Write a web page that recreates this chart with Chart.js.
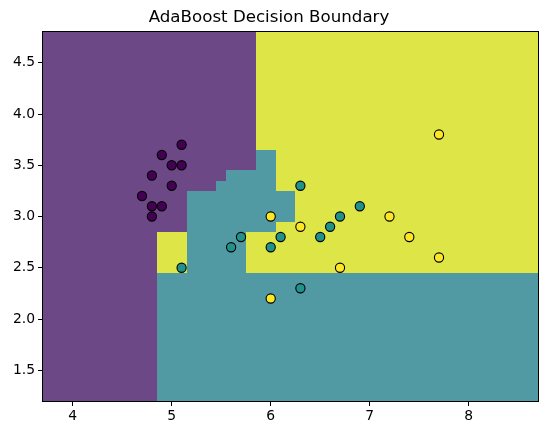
<!DOCTYPE html>
<html>
<head>
<meta charset="utf-8">
<script src="https://cdn.jsdelivr.net/npm/chart.js@4/dist/chart.umd.min.js"></script>
<style>
html,body{margin:0;padding:0;background:#fff;}
#wrap{width:547px;height:435px;position:relative;}
</style>
</head>
<body>
<div id="wrap"><canvas id="c" width="547" height="435"></canvas></div>
<script>
// ---- data ----
const titleText = "AdaBoost Decision Boundary";
const xRange = [3.7, 8.7];
const yRange = [1.2, 4.8];
const xTicks = [4, 5, 6, 7, 8];
const yTicks = [1.5, 2.0, 2.5, 3.0, 3.5, 4.0, 4.5];

// decision regions: horizontal bands (y edges), x break points and class per segment
const bandEdgesY = [1.2, 2.45, 2.85, 2.95, 3.25, 3.35, 3.45, 3.65, 4.8];
const bandBreaksX = [
  [4.85],
  [4.85, 5.15, 5.75],
  [5.15, 6.05],
  [5.15, 6.25],
  [5.45, 6.05],
  [5.55, 6.05],
  [5.85, 6.05],
  [5.85]
];
const bandClasses = [
  [0, 1],
  [0, 2, 1, 2],
  [0, 1, 2],
  [0, 1, 2],
  [0, 1, 2],
  [0, 1, 2],
  [0, 1, 2],
  [0, 2]
];

// samples
const class0X = [5.1, 4.9, 5.0, 5.1, 4.8, 5.0, 4.7, 4.8, 4.9, 4.8];
const class0Y = [3.7, 3.6, 3.5, 3.5, 3.4, 3.3, 3.2, 3.1, 3.1, 3.0];
const class1X = [6.3, 6.1, 6.0, 5.7, 5.6, 5.1, 6.3, 6.5, 6.6, 6.7, 6.9];
const class1Y = [3.3, 2.8, 2.7, 2.8, 2.7, 2.5, 2.3, 2.8, 2.9, 3.0, 3.1];
const class2X = [6.0, 6.3, 6.0, 6.7, 7.7, 7.2, 7.4, 7.7];
const class2Y = [3.0, 2.9, 2.2, 2.5, 3.8, 3.0, 2.8, 2.6];

// ---- styles ----
const regionColors = ['rgb(109,72,134)', 'rgb(81,154,164)', 'rgb(222,229,70)'];
const pointColors = ['#440154', '#21918c', '#fde725'];
const FONT = "'DejaVu Sans', sans-serif";

function pts(xs, ys) { return xs.map((x, i) => ({x: x, y: ys[i]})); }

const regionPlugin = {
  id: 'regions',
  beforeDatasetsDraw(chart) {
    const {ctx, chartArea, scales} = chart;
    const sx = scales.x, sy = scales.y;
    ctx.save();
    ctx.beginPath();
    ctx.rect(chartArea.left, chartArea.top, chartArea.right - chartArea.left, chartArea.bottom - chartArea.top);
    ctx.clip();
    for (let b = 0; b < bandClasses.length; b++) {
      const yA = Math.round(sy.getPixelForValue(bandEdgesY[b]));
      const yB = Math.round(sy.getPixelForValue(bandEdgesY[b + 1]));
      const xs = [xRange[0]].concat(bandBreaksX[b]).concat([xRange[1]]);
      for (let k = 0; k < bandClasses[b].length; k++) {
        const x0 = Math.round(sx.getPixelForValue(xs[k]));
        const x1 = Math.round(sx.getPixelForValue(xs[k + 1]));
        ctx.fillStyle = regionColors[bandClasses[b][k]];
        ctx.fillRect(x0, Math.min(yA, yB), x1 - x0, Math.abs(yB - yA));
      }
    }
    ctx.restore();
  },
  afterDraw(chart) {
    const {ctx, chartArea} = chart;
    ctx.save();
    ctx.strokeStyle = '#000';
    ctx.lineWidth = 1;
    ctx.strokeRect(Math.round(chartArea.left) - 0.5, Math.round(chartArea.top) - 0.5,
      Math.round(chartArea.right - chartArea.left) + 1, Math.round(chartArea.bottom - chartArea.top) + 1);
    ctx.restore();
  }
};

const ds = [[class0X, class0Y], [class1X, class1Y], [class2X, class2Y]].map((d, i) => ({
  label: 'class ' + i,
  data: pts(d[0], d[1]),
  backgroundColor: pointColors[i],
  borderColor: '#000',
  borderWidth: 1.1,
  pointRadius: 4.6,
  pointHoverRadius: 4.6
}));

new Chart(document.getElementById('c'), {
  type: 'scatter',
  data: {datasets: ds},
  options: {
    responsive: false,
    animation: false,
    events: [],
    layout: {padding: {left: 0, right: 9, top: 0, bottom: 0}},
    plugins: {
      legend: {display: false},
      tooltip: {enabled: false},
      title: {
        display: true,
        text: titleText,
        color: '#000',
        font: {family: FONT, size: 16.67, weight: 'normal', lineHeight: 1.2},
        padding: {top: 8, bottom: 4}
      }
    },
    scales: {
      x: {
        type: 'linear',
        min: xRange[0], max: xRange[1],
        afterBuildTicks: s => { s.ticks = xTicks.map(v => ({value: v})); },
        afterFit: s => { s.height = 34; },
        grid: {display: true, drawOnChartArea: false, drawTicks: true, tickLength: 5, color: '#000', tickColor: '#000'},
        border: {display: true, color: '#000'},
        ticks: {color: '#000', font: {family: FONT, size: 13.9}, padding: 2, maxRotation: 0,
          callback: v => String(v)}
      },
      y: {
        type: 'linear',
        min: yRange[0], max: yRange[1],
        afterBuildTicks: s => { s.ticks = yTicks.map(v => ({value: v})); },
        afterFit: s => { s.width = 43; },
        grid: {display: true, drawOnChartArea: false, drawTicks: true, tickLength: 5, color: '#000', tickColor: '#000'},
        border: {display: true, color: '#000'},
        ticks: {color: '#000', font: {family: FONT, size: 13.9}, padding: 3,
          callback: v => v.toFixed(1)}
      }
    }
  },
  plugins: [regionPlugin]
});
</script>
</body>
</html>
